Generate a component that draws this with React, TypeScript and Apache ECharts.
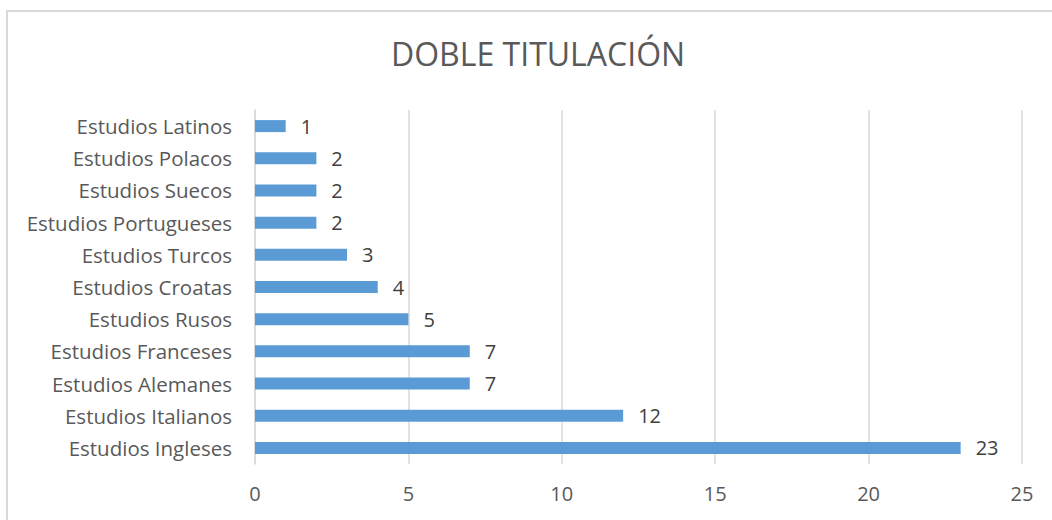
import React, { useEffect, useRef } from "react";
import * as echarts from "echarts";

const categories = [
  "Estudios Ingleses",
  "Estudios Italianos",
  "Estudios Alemanes",
  "Estudios Franceses",
  "Estudios Rusos",
  "Estudios Croatas",
  "Estudios Turcos",
  "Estudios Portugueses",
  "Estudios Suecos",
  "Estudios Polacos",
  "Estudios Latinos",
];
const values = [23, 12, 7, 7, 5, 4, 3, 2, 2, 2, 1];
const titleText = "DOBLE TITULACIÓN";

const FONT = "'Open Sans', sans-serif";

export default function App() {
  const ref = useRef<HTMLDivElement>(null);
  useEffect(() => {
    if (!ref.current) return;
    const chart = echarts.init(ref.current, undefined, { renderer: "svg" });
    chart.setOption({
      animation: false,
      backgroundColor: "#ffffff",
      title: {
        text: titleText,
        left: 386,
        top: 32,
        textStyle: { fontFamily: FONT, fontSize: 32, fontWeight: "normal", color: "#595959" },
      },
      graphic: [
        {
          type: "rect",
          shape: { x: 7, y: 11, width: 1100, height: 600 },
          style: { fill: "none", stroke: "#d9d9d9", lineWidth: 2 },
          silent: true,
        },
      ],
      grid: { left: 255, right: 30, top: 110, bottom: 56, containLabel: false, outerBoundsMode: "none" },
      xAxis: {
        type: "value",
        min: 0,
        max: 25,
        interval: 5,
        axisLine: { show: false },
        axisTick: { show: false },
        splitLine: { show: true, lineStyle: { color: "#d9d9d9", width: 1.5 } },
        axisLabel: { fontFamily: FONT, fontSize: 20, color: "#595959", margin: 19 },
      },
      yAxis: {
        type: "category",
        data: categories,
        axisLine: { show: true, lineStyle: { color: "#d9d9d9", width: 1.5 } },
        axisTick: { show: false },
        axisLabel: { fontFamily: FONT, fontSize: 20.5, color: "#595959", margin: 23 },
      },
      series: [
        {
          type: "bar",
          data: values,
          barWidth: 12,
          itemStyle: { color: "#5b9bd5" },
          label: {
            show: true,
            position: "right",
            distance: 15,
            fontFamily: FONT,
            fontSize: 20,
            color: "#404040",
          },
        },
      ],
    });
    return () => chart.dispose();
  }, []);
  return (
    <div
      ref={ref}
      style={{ position: "fixed", left: 0, top: 0, width: 1052, height: 520 }}
    />
  );
}
